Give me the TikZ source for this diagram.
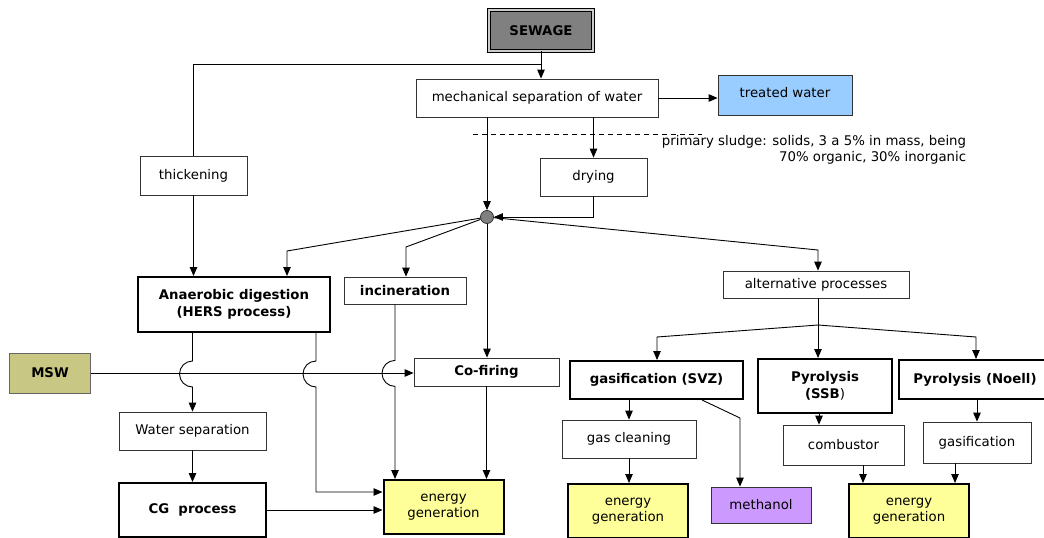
\documentclass[tikz,border=0pt]{standalone}
\usepackage{fontspec}
\setmainfont{DejaVu Sans}
\usetikzlibrary{arrows.meta}
\definecolor{sewgray}{RGB}{128,128,128}
\definecolor{twblue}{RGB}{153,204,255}
\definecolor{egyellow}{RGB}{255,255,153}
\definecolor{methpurple}{RGB}{204,153,255}
\definecolor{mswolive}{RGB}{200,200,132}
\begin{document}
\begin{tikzpicture}
[x=1pt,y=-1pt
,bx/.style={draw=black!80,line width=0.8pt,fill=white,inner sep=0pt,align=center,font=\fontsize{13.3}{16.5}\selectfont}
,bb/.style={bx,font=\fontsize{13.3}{16.5}\selectfont\bfseries}
,tb/.style={bb,draw=black,line width=2pt}
,eg/.style={tb,fill=egyellow,font=\fontsize{13.3}{16.5}\selectfont,minimum width=120pt,minimum height=54pt}
,ln/.style={line width=0.9pt}
,ar/.style={ln,arrows={-Triangle[length=9pt,width=7.5pt]}}
]
\useasboundingbox (0,0) rectangle (1044,538);
\node[bb,draw=black,line width=0.9pt,double=black!20,double distance=1.6pt,fill=sewgray,minimum width=104pt,minimum height=41pt] (sew) at (541,30.5) {SEWAGE};
\node[bx,minimum width=242pt,minimum height=38pt] (mech) at (537,98) {mechanical separation of water};
\node[bx,fill=twblue,minimum width=134pt,minimum height=40pt,text depth=6pt] (tw) at (785,95) {treated water};
\node[align=right,inner sep=0pt,font=\fontsize{13.3}{16.5}\selectfont] (note) at (814,150) {primary sludge: solids, 3 a 5\% in mass, being\\70\% organic, 30\% inorganic};
\node[bx,minimum width=107pt,minimum height=39pt] (thick) at (193.5,175.5) {thickening};
\node[bx,minimum width=107pt,minimum height=38pt] (dry) at (593.5,177) {drying};
\node[circle,draw=black!80,line width=0.8pt,fill=sewgray,minimum size=13pt,inner sep=0pt] (hub) at (487,217) {};
\node[tb,minimum width=192pt,minimum height=55pt] (ad) at (234,304.5) {Anaerobic digestion\\(HERS process)};
\node[bb,minimum width=122pt,minimum height=27pt] (inc) at (405,290.5) {incineration};
\node[bb,minimum width=145pt,minimum height=28pt] (cof) at (486.5,372) {Co-firing};
\node[bb,fill=mswolive,draw=black!60,minimum width=81pt,minimum height=40pt] (msw) at (50,373) {MSW};
\node[bx,minimum width=147pt,minimum height=38pt] (ws) at (192.5,431) {Water separation};
\node[tb,minimum width=147pt,minimum height=54pt] (cg) at (192.5,510) {CG\ \ process};
\node[eg] (eg1) at (443.5,507) {energy\\generation};
\node[bx,minimum width=186pt,minimum height=27pt] (alt) at (816,284.5) {alternative processes};
\node[tb,minimum width=173pt,minimum height=38pt] (svz) at (656.5,380) {gasification (SVZ)};
\node[tb,minimum width=134pt,minimum height=54pt] (ssb) at (825,386) {Pyrolysis\\(SSB\textmd{)}};
\node[tb,minimum width=152pt,minimum height=39pt] (noell) at (975,379.5) {Pyrolysis (Noell)};
\node[bx,minimum width=134pt,minimum height=38pt] (gc) at (629,439) {gas cleaning};
\node[bx,minimum width=121pt,minimum height=40pt] (comb) at (843.5,445) {combustor};
\node[bx,minimum width=108pt,minimum height=41pt] (gas) at (977,442.5) {gasification};
\node[eg] (eg2) at (628,511) {energy\\generation};
\node[bx,fill=methpurple,minimum width=100pt,minimum height=36pt] (meth) at (761,505) {methanol};
\node[eg] (eg3) at (909,511) {energy\\generation};
% sewage and sludge line
\coordinate (split) at (541,64);
\coordinate (d0) at (473,134);
\coordinate (d1) at (702,134);
\draw[ar] (sew.south) -- (sew.south |- mech.north);
\draw[ln] (split) -| (thick.north);
\draw[ar] (mech.east) -- (mech.east -| tw.west);
\draw[line width=0.8pt,dash pattern=on 5pt off 4pt] (d0) -- (d1);
\draw[ar] (mech.south -| dry.north) -- (dry.north);
\draw[ar] (mech.south -| hub.north) -- (hub.north);
\draw[ar] (dry.south) |- (hub.east);
\draw[ar] (thick.south) -- (thick.south |- ad.north);
% from the hub
\coordinate (k1) at (287,251);
\coordinate (k2) at (406,247);
\coordinate (k3) at (818,250);
\draw[ar] (hub) -- (k1) -- (k1 |- ad.north);
\draw[ar] (hub) -- (k2) -- (k2 |- inc.north);
\draw[ar] (hub) -- (k3) -- (k3 |- alt.north);
\draw[ar] (hub) -- (hub |- cof.north);
% left part, with hops over the MSW line
\draw[ar] (msw.east) -- (msw.east -| cof.west);
\coordinate (a1) at (ad.south -| ws.north);
\coordinate (a2) at ([xshift=82pt]ad.south);
\coordinate (i1) at ([xshift=-10pt]inc.south);
\draw[ar] (a1) -- ++(0,28) arc[start angle=90,end angle=270,radius=13pt] -- (a1 |- ws.north);
\draw[ar] (a2) -- ++(0,28) arc[start angle=90,end angle=270,radius=13pt] |- ([yshift=15pt]eg1.west);
\draw[ar] (i1) -- ++(0,56) arc[start angle=90,end angle=270,radius=13pt] -- (i1 |- eg1.north);
\draw[ar] (cof.south) -- (cof.south |- eg1.north);
\draw[ar] (ws.south) -- (cg.north);
\draw[ar] (cg.east) -- (cg.east -| eg1.west);
% alternative processes
\coordinate (br) at (818,325);
\coordinate (k4) at (657,337);
\coordinate (k5) at (976,337);
\draw[ln] (alt.south -| br) -- (br);
\draw[ar] (br) -- (k4) -- (k4 |- svz.north);
\draw[ar] (br) -- (br |- ssb.north);
\draw[ar] (br) -- (k5) -- (k5 |- noell.north);
\draw[ar] (gc.north |- svz.south) -- (gc.north);
\draw[ar] (gc.south) -- (gc.south |- eg2.north);
\coordinate (m0) at ([xshift=45.5pt]svz.south);
\coordinate (m1) at (740,418);
\draw[ar] (m0) -- (m1) -- (m1 |- meth.north);
\coordinate (p1) at ([xshift=-6pt]ssb.south);
\coordinate (c1) at ([xshift=19.5pt]comb.south);
\coordinate (g1) at ([xshift=-22pt]gas.south);
\draw[ar] (p1) -- (p1 |- comb.north);
\draw[ar] (c1) -- (c1 |- eg3.north);
\draw[ar] (gas.north |- noell.south) -- (gas.north);
\draw[ar] (g1) -- (g1 |- eg3.north);
\end{tikzpicture}
\end{document}
